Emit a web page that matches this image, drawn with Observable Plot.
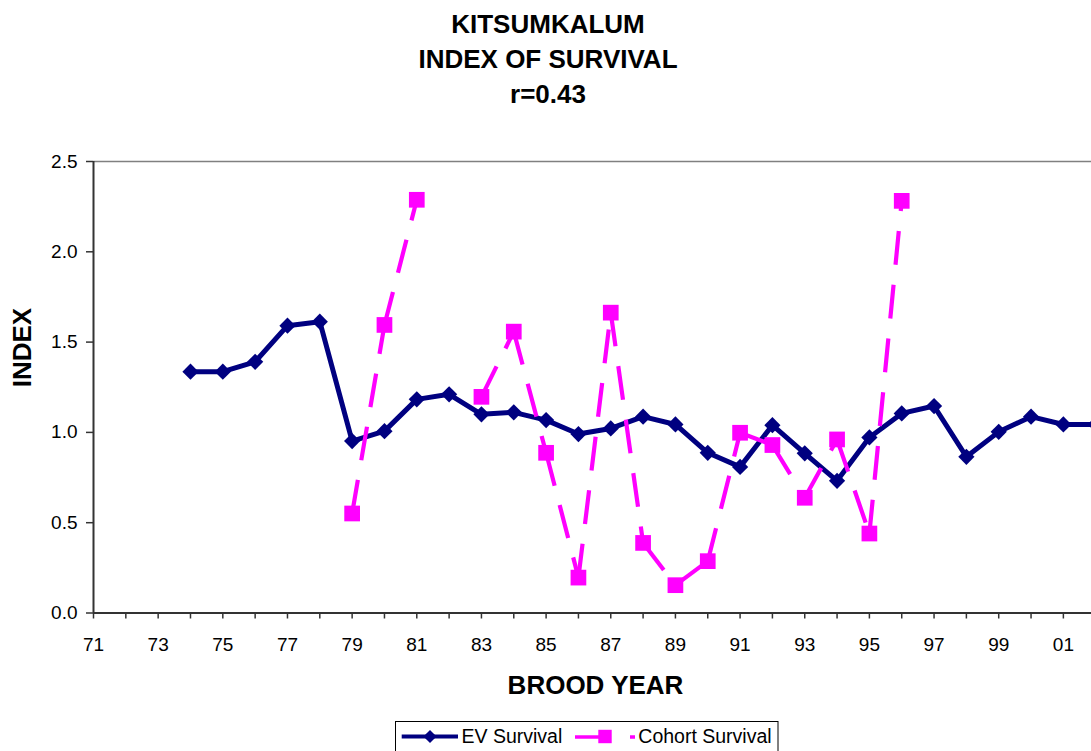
<!DOCTYPE html>
<html>
<head>
<meta charset="utf-8">
<script src="https://cdn.jsdelivr.net/npm/d3@7"></script>
<script src="https://cdn.jsdelivr.net/npm/@observablehq/plot@0.6"></script>
<style>
  html, body { margin: 0; padding: 0; background: #fff; overflow: hidden; }
  body { font-family: "Liberation Sans", Arial, sans-serif; color: #000; }
  #wrap { position: relative; width: 1091px; height: 751px; overflow: hidden; background: #fff; }
  #title { position: absolute; left: 0; top: 6.5px; width: 1096px; text-align: center;
           font-weight: bold; font-size: 26px; line-height: 35px; color: #000; }
  #chart { position: absolute; left: 0; top: 0; }
  #legend { position: absolute; left: 395px; top: 721px; }
</style>
</head>
<body>
<div id="wrap">
  <div id="chart"></div>
  <div id="title"></div>
  <div id="legend"></div>
</div>
<script>
// ---- Chart text ----
const titleLines = ["KITSUMKALUM", "INDEX OF SURVIVAL", "r=0.43"];
const xLabel = "BROOD YEAR";
const yLabel = "INDEX";
const seriesNames = ["EV Survival", "Cohort Survival"];

// ---- Data (brood years and index values) ----
const evYears = [1974, 1975, 1976, 1977, 1978, 1979, 1980, 1981, 1982, 1983, 1984, 1985, 1986, 1987, 1988,
                 1989, 1990, 1991, 1992, 1993, 1994, 1995, 1996, 1997, 1998, 1999, 2000, 2001, 2002];
const evSurvival = [1.336, 1.336, 1.391, 1.591, 1.613, 0.952, 1.007, 1.183, 1.211, 1.100, 1.111, 1.068, 0.991, 1.022, 1.087,
                    1.044, 0.887, 0.809, 1.040, 0.884, 0.732, 0.972, 1.105, 1.146, 0.865, 1.003, 1.087, 1.044, 1.044];

const cohortYears = [1979, 1980, 1981, 1982, 1983, 1984, 1985, 1986, 1987, 1988, 1989, 1990, 1991, 1992, 1993, 1994, 1995, 1996];
const cohortSurvival = [0.551, 1.595, 2.288, null, 1.197, 1.558, 0.887, 0.196, 1.663, 0.388, 0.154, 0.287, 0.998, 0.930, 0.638, 0.961, 0.440, 2.282];

// ---- Axis ticks ----
const xTickYears = [1971, 1972, 1973, 1974, 1975, 1976, 1977, 1978, 1979, 1980, 1981, 1982, 1983, 1984, 1985, 1986,
                    1987, 1988, 1989, 1990, 1991, 1992, 1993, 1994, 1995, 1996, 1997, 1998, 1999, 2000, 2001];
const xTickLabels = ["71", "", "73", "", "75", "", "77", "", "79", "", "81", "", "83", "", "85", "",
                     "87", "", "89", "", "91", "", "93", "", "95", "", "97", "", "99", "", "01"];
const yTicks = [0, 0.5, 1.0, 1.5, 2.0, 2.5];

// ---- Colours ----
const evColor = "#000080";
const cohortColor = "#FF00FF";
const axisColor = "#333333";

// ---- Tables built from the arrays ----
const evData = evYears.map((year, i) => ({year, value: evSurvival[i]}));
const cohortData = cohortYears.map((year, i) => ({year, value: cohortSurvival[i]}));
const cohortPoints = cohortData.filter(d => d.value != null);
// Excel restarts the dash pattern on every segment: one link per consecutive pair
const cohortSegments = d3.pairs(cohortData)
  .filter(([a, b]) => a.value != null && b.value != null)
  .map(([a, b]) => ({x1: a.year, y1: a.value, x2: b.year, y2: b.value}));
const tickLabelOf = new Map(xTickYears.map((y, i) => [y, xTickLabels[i]]));

document.getElementById("title").innerHTML = titleLines.join("<br>");

const chart = Plot.plot({
  width: 1091,
  height: 705,
  marginTop: 161,
  marginBottom: 92.5,
  marginLeft: 93,
  marginRight: 0,
  style: {fontFamily: "'Liberation Sans', Arial, sans-serif", fontSize: "19px", color: "#000", background: "#fff", overflow: "hidden"},
  x: {domain: [xTickYears[0], 2001.87], label: null},
  y: {domain: [yTicks[0], yTicks[yTicks.length - 1]], label: null},
  marks: [
    // plot-area top border
    Plot.ruleY([yTicks[yTicks.length - 1]], {stroke: "#808080", strokeWidth: 1.5}),
    // axes
    Plot.axisY({ticks: yTicks, tickFormat: d3.format(".1f"), tickSize: 7, tickPadding: 9,
                stroke: axisColor, strokeWidth: 1.5, fill: "#000", label: null}),
    Plot.axisX({ticks: xTickYears, tickFormat: d => tickLabelOf.get(d) ?? "", tickSize: 6, tickPadding: 18.5,
                stroke: axisColor, strokeWidth: 1.5, fill: "#000", label: null}),
    Plot.ruleX([xTickYears[0]], {stroke: axisColor, strokeWidth: 2}),
    Plot.ruleY([yTicks[0]], {stroke: axisColor, strokeWidth: 2}),
    // axis titles
    Plot.text([yLabel], {frameAnchor: "left", rotate: -90, dx: -71.3, fontSize: 26, fontWeight: "bold", fill: "#000"}),
    Plot.text([xLabel], {frameAnchor: "bottom", dx: 3, dy: 72.5, lineAnchor: "middle", fontSize: 26, fontWeight: "bold", fill: "#000"}),
    // EV Survival
    Plot.line(evData, {x: "year", y: "value", stroke: evColor, strokeWidth: 5, clip: true}),
    Plot.dot(evData, {x: "year", y: "value", symbol: "diamond2", r: 7.3, fill: evColor, stroke: "none", clip: true}),
    // Cohort Survival
    Plot.link(cohortSegments, {x1: "x1", y1: "y1", x2: "x2", y2: "y2", stroke: cohortColor, strokeWidth: 4.2,
                               strokeDasharray: "34,20", strokeLinecap: "butt", curve: "linear"}),
    Plot.dot(cohortPoints, {x: "year", y: "value", symbol: "square", r: 8.86, fill: cohortColor, stroke: "none"})
  ]
});
document.getElementById("chart").appendChild(chart);

// ---- Legend (below the plot) ----
const lg = d3.create("svg").attr("width", 385).attr("height", 32)
  .style("font-family", "'Liberation Sans', Arial, sans-serif").style("font-size", "19.5px");
lg.append("rect").attr("x", 0.5).attr("y", 0.5).attr("width", 382.5).attr("height", 40)
  .attr("fill", "#fff").attr("stroke", "#000").attr("stroke-width", 1);
// EV sample
lg.append("line").attr("x1", 6.7).attr("x2", 63).attr("y1", 15.5).attr("y2", 15.5)
  .attr("stroke", evColor).attr("stroke-width", 4);
lg.append("path").attr("transform", "translate(35,15.5)")
  .attr("d", d3.symbol(d3.symbolDiamond2, 110)()).attr("fill", evColor);
lg.append("text").attr("x", 66.5).attr("y", 22.3).text(seriesNames[0]);
// Cohort sample
lg.append("line").attr("x1", 180).attr("x2", 205).attr("y1", 16).attr("y2", 16)
  .attr("stroke", cohortColor).attr("stroke-width", 3.5);
lg.append("path").attr("transform", "translate(210,15.5)")
  .attr("d", d3.symbol(d3.symbolSquare, 180)()).attr("fill", cohortColor);
lg.append("line").attr("x1", 235).attr("x2", 240).attr("y1", 16).attr("y2", 16)
  .attr("stroke", cohortColor).attr("stroke-width", 3.5);
lg.append("text").attr("x", 243.3).attr("y", 22.3).text(seriesNames[1]);
document.getElementById("legend").appendChild(lg.node());
</script>
</body>
</html>
